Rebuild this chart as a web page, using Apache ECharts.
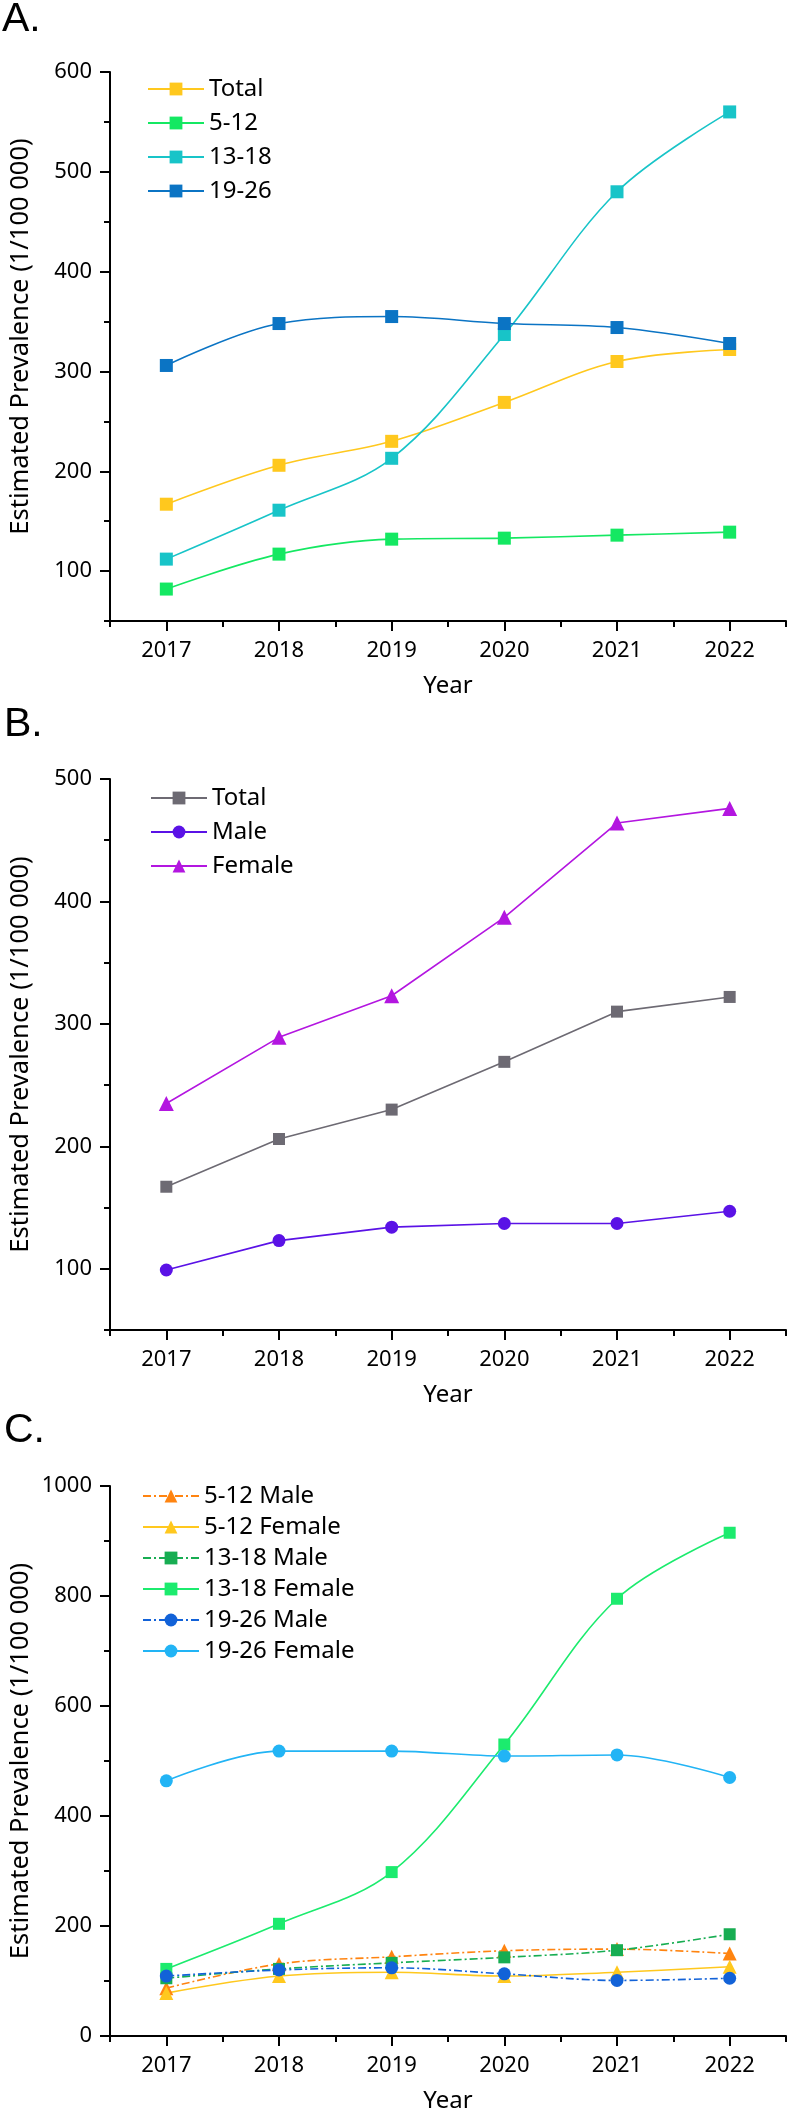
<!DOCTYPE html>
<html><head><meta charset="utf-8">
<script src="https://cdn.jsdelivr.net/npm/echarts@6/dist/echarts.min.js"></script>
<style>html,body{margin:0;padding:0;background:#fff}#c{width:790px;height:2122px}</style>
</head><body><div id="c"></div>
<script>
// ---- Data ----
const years = ['2017', '2018', '2019', '2020', '2021', '2022'];

// Panel A: by age group
const totalA = [167, 206, 230, 269, 310, 322];
const age5to12 = [82, 117, 132, 133, 136, 139];
const age13to18 = [112, 161, 213, 337, 480, 560];
const age19to26 = [306, 348, 355, 348, 344, 328];

// Panel B: by sex
const totalB = [167, 206, 230, 269, 310, 322];
const maleB = [99, 123, 134, 137, 137, 147];
const femaleB = [235, 289, 323, 387, 464, 476];

// Panel C: by age group and sex
const male5to12 = [87, 131, 144, 155, 158, 150];
const female5to12 = [78, 109, 116, 109, 116, 126];
const male13to18 = [105, 122, 133, 143, 156, 185];
const female13to18 = [122, 204, 298, 530, 795, 915];
const male19to26 = [109, 120, 124, 113, 101, 105];
const female19to26 = [464, 518, 518, 509, 511, 470];

// Tick labels
const yTicksA = [100, 200, 300, 400, 500, 600];
const yTicksB = [100, 200, 300, 400, 500];
const yTicksC = [0, 200, 400, 600, 800, 1000];

const yName = 'Estimated Prevalence (1/100 000)';
const xName = 'Year';

// ---- Styling ----
const FONT = '"Noto Sans", "DejaVu Sans", sans-serif';
const BLACK = '#000';
const axisLineStyle = { color: BLACK, width: 2 };

function xMinor(g) {
  return {
    type: 'category', gridIndex: g, data: years, boundaryGap: true, position: 'bottom',
    axisLine: { show: true, lineStyle: axisLineStyle },
    axisTick: { show: true, alignWithLabel: false, length: 6, lineStyle: axisLineStyle },
    axisLabel: { show: false }, splitLine: { show: false },
    name: xName, nameLocation: 'middle', nameGap: 53,
    nameTextStyle: { fontSize: 24, color: BLACK, fontFamily: FONT }
  };
}
function xMajor(g) {
  return {
    type: 'category', gridIndex: g, data: years, boundaryGap: true, position: 'bottom',
    axisLine: { show: false },
    axisTick: { show: true, alignWithLabel: true, length: 10, lineStyle: axisLineStyle },
    axisLabel: { show: true, interval: 0, fontSize: 22, color: BLACK, margin: 19, fontFamily: FONT },
    splitLine: { show: false }
  };
}
function yMinor(g, min, max, step, pad) {
  return {
    type: 'value', gridIndex: g, min: min, max: max, interval: step, position: 'left',
    axisLine: { show: true, lineStyle: axisLineStyle },
    axisTick: { show: true, length: 6, lineStyle: axisLineStyle },
    axisLabel: { show: false }, splitLine: { show: false },
    name: yName, nameLocation: 'middle', nameGap: 76,
    nameTextStyle: { fontSize: 25.5, color: BLACK, fontFamily: FONT, padding: [0, 0, 0, pad] }
  };
}
function yMajor(g, min, max, ticks) {
  return {
    type: 'value', gridIndex: g, min: min, max: max, position: 'left',
    axisLine: { show: false },
    axisTick: { show: true, length: 10, customValues: ticks, lineStyle: axisLineStyle },
    axisLabel: {
      show: true, customValues: ticks, fontSize: 22, color: BLACK, margin: 18, fontFamily: FONT,
      formatter: function (v) { return String(v); }
    },
    splitLine: { show: false }
  };
}
function line(name, data, g, color, symbol, size, smooth, dashed) {
  return {
    type: 'line', name: name, data: data, xAxisIndex: g * 2, yAxisIndex: g * 2,
    smooth: smooth ? 0.35 : false,
    symbol: symbol, symbolSize: size,
    itemStyle: { color: color },
    lineStyle: { color: color, width: 1.6, type: dashed ? [8, 3, 2, 3] : 'solid' },
    emphasis: { disabled: true }, z: 3
  };
}
function legend(left, top, items, gap) {
  return {
    orient: 'vertical', left: left, top: top, itemWidth: 56, itemHeight: 16, itemGap: gap,
    textStyle: { fontSize: 24, color: BLACK, fontFamily: FONT, lineHeight: 24 },
    data: items, selectedMode: false
  };
}

const C_TOTAL_A = '#FFC81E', C_512 = '#14E862', C_1318 = '#18C4C8', C_1926 = '#0B74C4';
const C_TOTAL_B = '#6D6A73', C_MALE = '#5A12E6', C_FEMALE = '#B316E0';
const C_M512 = '#FF8410', C_F512 = '#FFC81E', C_M1318 = '#17AD52', C_F1318 = '#1CEB6E', C_M1926 = '#1262D8', C_F1926 = '#22B4F5';

const option = {
  backgroundColor: '#fff',
  animation: false,
  textStyle: { fontFamily: FONT },
  grid: [
    { left: 104, top: 72, width: 682, height: 549 },
    { left: 104, top: 779, width: 682, height: 551 },
    { left: 104, top: 1486, width: 682, height: 550 }
  ],
  xAxis: [xMinor(0), xMajor(0), xMinor(1), xMajor(1), xMinor(2), xMajor(2)],
  yAxis: [
    yMinor(0, 50, 600, 50, 20), yMajor(0, 50, 600, yTicksA),
    yMinor(1, 50, 500, 50, 0), yMajor(1, 50, 500, yTicksB),
    yMinor(2, 0, 1000, 100, 0), yMajor(2, 0, 1000, yTicksC)
  ],
  legend: [
    legend(142, 72, ['Total', '5-12', '13-18', '19-26'], 10),
    legend(145, 781, [
      { name: 'Total', itemStyle: { color: C_TOTAL_B }, lineStyle: { color: C_TOTAL_B } },
      'Male', 'Female'], 10),
    legend(137, 1479, ['5-12 Male', '5-12 Female', '13-18 Male', '13-18 Female', '19-26 Male', '19-26 Female'], 7)
  ],
  graphic: [
    { type: 'text', left: 2, top: -1, style: { text: 'A.', font: '41px "Liberation Sans", Arial, sans-serif', fill: BLACK } },
    { type: 'text', left: 4, top: 704, style: { text: 'B.', font: '41px "Liberation Sans", Arial, sans-serif', fill: BLACK } },
    { type: 'text', left: 4, top: 1410, style: { text: 'C.', font: '41px "Liberation Sans", Arial, sans-serif', fill: BLACK } }
  ],
  series: [
    line('Total', totalA, 0, C_TOTAL_A, 'rect', 13, true, false),
    line('5-12', age5to12, 0, C_512, 'rect', 13, true, false),
    line('13-18', age13to18, 0, C_1318, 'rect', 13, true, false),
    line('19-26', age19to26, 0, C_1926, 'rect', 13, true, false),

    line('Total', totalB, 1, C_TOTAL_B, 'rect', 12, false, false),
    line('Male', maleB, 1, C_MALE, 'circle', 13, false, false),
    line('Female', femaleB, 1, C_FEMALE, 'triangle', 15, false, false),

    line('5-12 Male', male5to12, 2, C_M512, 'triangle', 14, true, true),
    line('5-12 Female', female5to12, 2, C_F512, 'triangle', 14, true, false),
    line('13-18 Male', male13to18, 2, C_M1318, 'rect', 12, true, true),
    line('13-18 Female', female13to18, 2, C_F1318, 'rect', 12, true, false),
    line('19-26 Male', male19to26, 2, C_M1926, 'circle', 13, true, true),
    line('19-26 Female', female19to26, 2, C_F1926, 'circle', 13, true, false)
  ]
};

const chart = echarts.init(document.getElementById('c'), null, { renderer: 'canvas' });
chart.setOption(option);
</script>
</body></html>
